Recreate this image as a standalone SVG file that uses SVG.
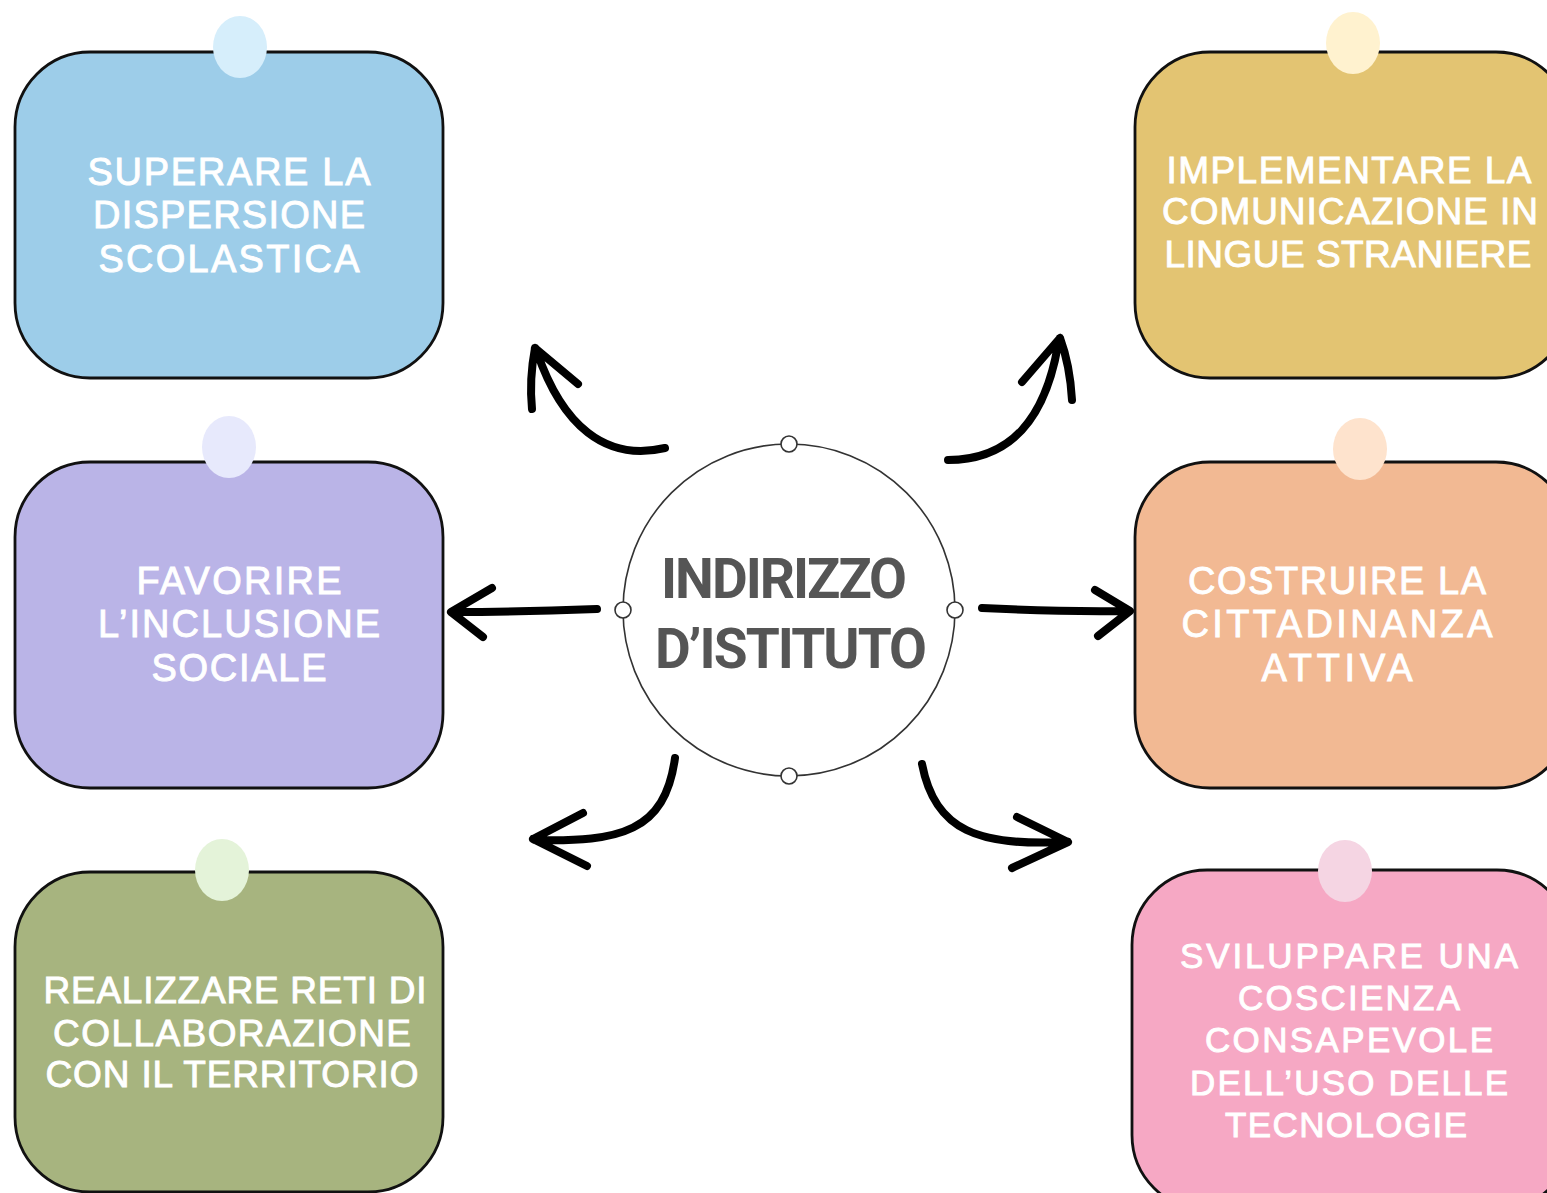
<svg xmlns="http://www.w3.org/2000/svg" width="1547" height="1193" viewBox="0 0 1547 1193">
<style>
.box{stroke:#111;stroke-width:2.8}
.lbl{font-family:"Liberation Sans",Arial,sans-serif;font-weight:400;fill:#ffffff;stroke:#ffffff;stroke-width:0.9;text-anchor:middle}
.ctr{font-family:Roboto,"Liberation Sans",sans-serif;font-weight:700;fill:#555555;text-anchor:middle;font-size:55px}
.arr{fill:none;stroke:#000;stroke-width:8;stroke-linecap:round;stroke-linejoin:round}
.dot{fill:#fff;stroke:#333;stroke-width:1.6}
</style>
<rect width="1547" height="1193" fill="#ffffff"/>

<g id="connectors">
  <path class="arr" d="M665,448 C605,462 562,425 537,352 M535,348 Q529,380 532,409 M535,348 L578,384"/>
  <path class="arr" d="M948,460 C1010,460 1045,420 1058,345 M1060,338 Q1070,365 1072,400 M1060,338 L1022,382"/>
  <path class="arr" d="M597,609 Q520,612 453,612 M451,612 L492,588 M451,612 L483,637"/>
  <path class="arr" d="M982,608 Q1060,612 1128,611 M1130,611 L1095,590 M1130,611 L1098,636"/>
  <path class="arr" d="M675,758 C665,832 620,842 535,840 M533,839 L583,813 M533,839 L587,866"/>
  <path class="arr" d="M922,764 C935,832 980,846 1065,842 M1068,842 L1017,817 M1068,842 L1012,868"/>
</g>

<g id="center">
  <circle cx="789" cy="610" r="166" fill="#fff" stroke="#333" stroke-width="1.6"/>
  <circle class="dot" cx="789" cy="444" r="8"/>
  <circle class="dot" cx="789" cy="776" r="8"/>
  <circle class="dot" cx="623" cy="610" r="8"/>
  <circle class="dot" cx="955" cy="610" r="8"/>
  <text class="ctr" x="784" y="598" textLength="246">INDIRIZZO</text>
  <text class="ctr" x="791" y="668" textLength="272">D’ISTITUTO</text>
</g>

<g id="node-dispersione">
  <rect class="box" x="15" y="52" width="428" height="326" rx="75" fill="#9DCDE9"/>
  <ellipse cx="240" cy="47" rx="27" ry="31" fill="#D6EEFB"/>
  <g class="lbl" font-size="38">
    <text x="229" y="185" textLength="283">SUPERARE LA</text>
    <text x="229" y="228" textLength="272">DISPERSIONE</text>
    <text x="229" y="272" textLength="261">SCOLASTICA</text>
  </g>
</g>

<g id="node-lingue">
  <rect class="box" x="1135" y="52" width="436" height="326" rx="75" fill="#E3C472"/>
  <ellipse cx="1353" cy="43" rx="27" ry="31" fill="#FFF2CF"/>
  <g class="lbl" font-size="37">
    <text x="1349" y="183" textLength="365">IMPLEMENTARE LA</text>
    <text x="1350" y="224" textLength="376">COMUNICAZIONE IN</text>
    <text x="1348" y="267" textLength="367">LINGUE STRANIERE</text>
  </g>
</g>

<g id="node-inclusione">
  <rect class="box" x="15" y="462" width="428" height="326" rx="75" fill="#BAB4E7"/>
  <ellipse cx="229" cy="447" rx="27" ry="31" fill="#E7E9FC"/>
  <g class="lbl" font-size="38">
    <text x="239" y="594" textLength="205">FAVORIRE</text>
    <text x="239" y="637" textLength="282">L’INCLUSIONE</text>
    <text x="239" y="681" textLength="175">SOCIALE</text>
  </g>
</g>

<g id="node-cittadinanza">
  <rect class="box" x="1135" y="462" width="436" height="326" rx="75" fill="#F2B993"/>
  <ellipse cx="1360" cy="449" rx="27" ry="31" fill="#FEE3CD"/>
  <g class="lbl" font-size="38">
    <text x="1337" y="594" textLength="298">COSTRUIRE LA</text>
    <text x="1337" y="637" textLength="311">CITTADINANZA</text>
    <text x="1337" y="681" textLength="151">ATTIVA</text>
  </g>
</g>

<g id="node-reti">
  <rect class="box" x="15" y="872" width="428" height="320" rx="75" fill="#A7B47F"/>
  <ellipse cx="222" cy="870" rx="27" ry="31" fill="#E4F3D9"/>
  <g class="lbl" font-size="37">
    <text x="235" y="1003" textLength="383">REALIZZARE RETI DI</text>
    <text x="232" y="1046" textLength="358">COLLABORAZIONE</text>
    <text x="232" y="1087" textLength="373">CON IL TERRITORIO</text>
  </g>
</g>

<g id="node-tecnologie">
  <rect class="box" x="1132" y="870" width="440" height="340" rx="75" fill="#F6A8C4"/>
  <ellipse cx="1345" cy="871" rx="27" ry="31" fill="#F5D5E3"/>
  <g class="lbl" font-size="35">
    <text x="1349" y="968" textLength="338">SVILUPPARE UNA</text>
    <text x="1349" y="1010" textLength="222">COSCIENZA</text>
    <text x="1349" y="1052" textLength="288">CONSAPEVOLE</text>
    <text x="1349" y="1095" textLength="318">DELL’USO DELLE</text>
    <text x="1346" y="1137" textLength="242">TECNOLOGIE</text>
  </g>
</g>
</svg>
